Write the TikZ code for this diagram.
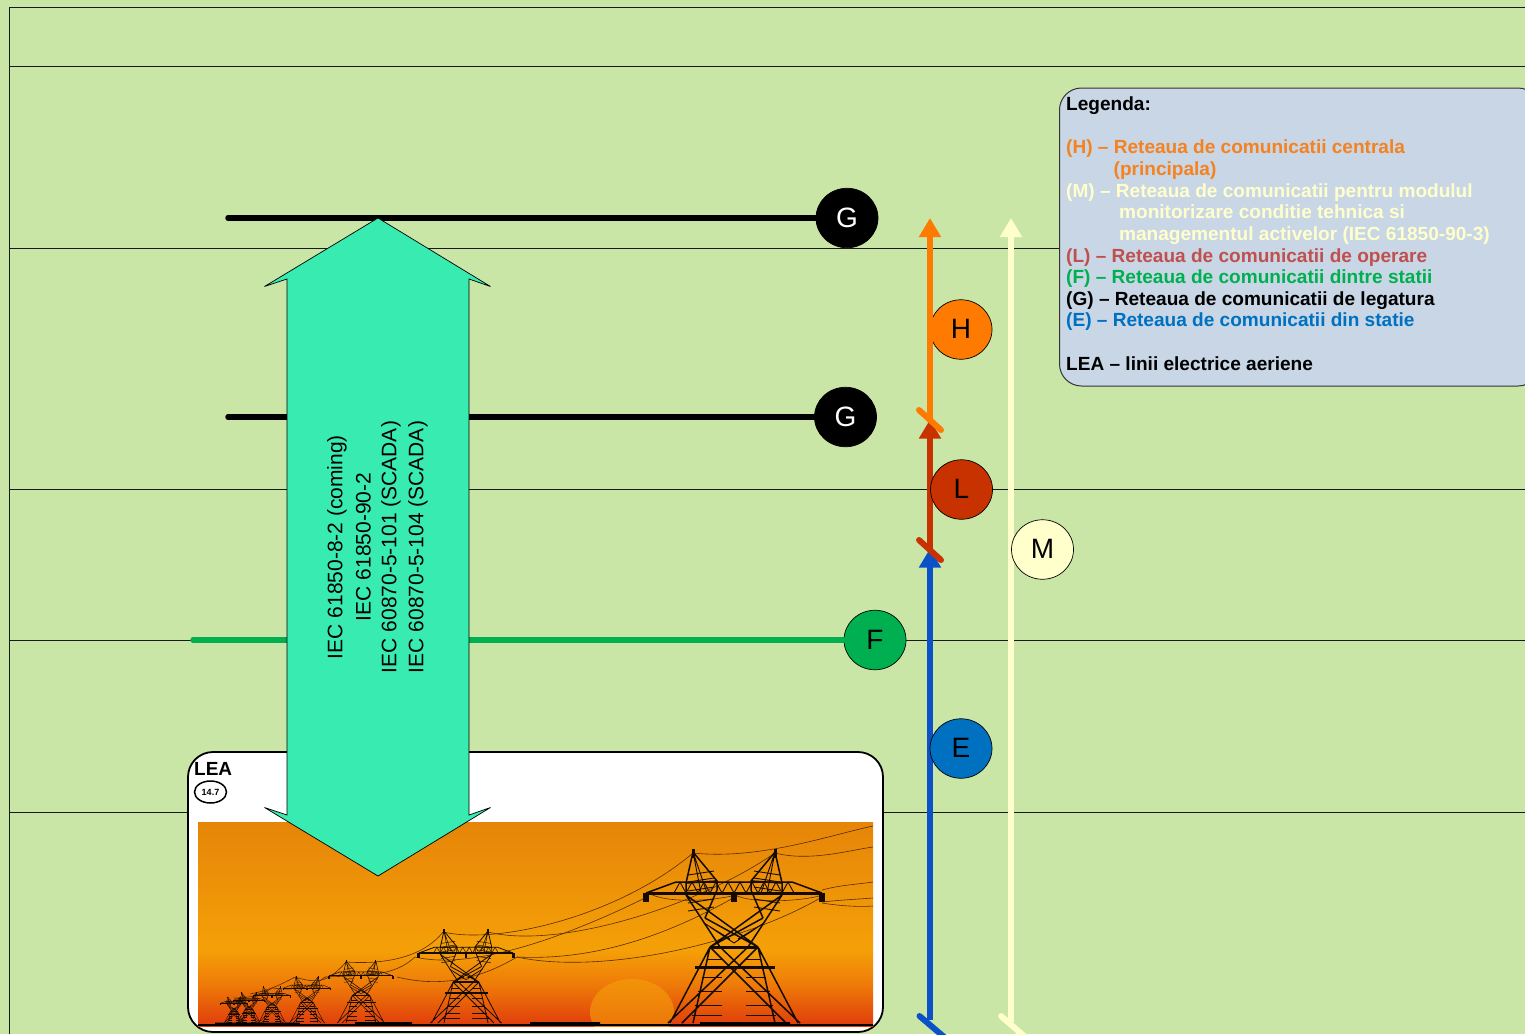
\documentclass[tikz,border=0pt]{standalone}
\usepackage{fontspec}
\setmainfont{Liberation Sans}
\usetikzlibrary{arrows.meta,shapes.geometric}
\definecolor{bgreen}{HTML}{C9E6A7}
\definecolor{legbg}{HTML}{C8D6E6}
\definecolor{arrowgreen}{HTML}{38EBB0}
\definecolor{hor}{HTML}{FF7A00}
\definecolor{lred}{HTML}{C83200}
\definecolor{mcream}{HTML}{FFFFCC}
\definecolor{fgreen}{HTML}{00B050}
\definecolor{eblue}{HTML}{0B52C8}
\definecolor{ecirc}{HTML}{0070C0}
\definecolor{txtH}{HTML}{F58220}
\definecolor{txtL}{HTML}{C0504D}
\definecolor{txtE}{HTML}{0070C0}
\definecolor{skyA}{HTML}{E68508}
\definecolor{skyB}{HTML}{F5A008}
\definecolor{skyM}{HTML}{EE7A08}
\definecolor{skyC}{HTML}{E03C0C}
\definecolor{sunc}{HTML}{F5A00A}
\tikzset{
 x=1pt,y=-1pt,
 grid/.style={black!90,line width=0.8pt},
 tag/.style={ellipse,draw=black,line width=0.7pt,minimum width=62pt,minimum height=59.5pt,inner sep=0pt,font=\fontsize{28}{28}\selectfont},
 bus/.style={line width=5.5pt,line cap=round},
 riser/.style={line width=6pt},
 risertip/.style={-{Triangle[length=19pt,width=21pt]}},
 slash/.style={line width=6pt,line cap=round},
 leg/.style={anchor=base west,inner sep=0pt,font=\fontsize{19.05}{20}\bfseries\selectfont},
 iec/.style={rotate=90,inner sep=0pt,font=\fontsize{21}{24}\selectfont},
 wire/.style={line width=0.6pt,black!65!orange},
}
\newcommand{\tagtext}[1]{\raisebox{1pt}{#1}}
\newcommand{\pylon}[3]{% cx, top, base
 \pgfmathsetmacro{\sc}{(#3-#2)/171}
 \pgfmathsetmacro{\lw}{max(0.35,1.5*\sc)}
 \begin{scope}[shift={(#1,#3)},xscale=\sc,yscale=\sc,line width=\lw pt,black!92!orange]
  % lower legs
  \draw (-64,0)--(-24,-76) (64,0)--(24,-76) (-41,0)--(-24,-76) (41,0)--(24,-76)
        (-24,-76)--(52,0) (24,-76)--(-52,0) (-14,-76)--(66,0) (14,-76)--(-66,0);
  % upper X
  \draw (-48,-128)--(-14,-76) (48,-128)--(14,-76)
        (-29,-105)--(24,-76) (29,-105)--(-24,-76) (-29,-105)--(24,-76)
        (-48,-128)--(24,-76) (48,-128)--(-24,-76)
        (-17,-133)--(-29,-105) (17,-133)--(29,-105);
  % peaks
  \draw (-41,-171)--(-48,-140)--(-48,-128) (-41,-171)--(-17,-142)--(-17,-133)
        (41,-171)--(48,-140)--(48,-128) (41,-171)--(17,-142)--(17,-133)
        (-48,-140)--(-17,-142) (48,-140)--(17,-142);
  \draw (-88,-130)--(-58,-141)--(58,-141)--(88,-130);
  \draw[line width=2*\lw pt] (-88,-130)--(88,-130) (-24,-76)--(24,-76) (-39,-56)--(41,-56)
        (-41,-174)--(-41,-165) (41,-174)--(41,-165);
  \draw[line width=3.6*\lw pt] (-88,-130)--(-88,-121) (0,-130)--(0,-121) (88,-130)--(88,-121);
  \foreach \i in {-60,-48,...,48}{
   \draw[line width=0.6*\lw pt] (\i,-130)--(\i+6,-141)--(\i+12,-130);}
  \foreach \s in {-1,1}{
   \foreach \b in {-64,-46,-32,-18,-8}{
    \draw[line width=0.6*\lw pt] (\s*44+\s*\b*0.26+\s*0,\b)--(\s*12,\b);}
   \foreach \b in {-152,-145,-136,-124,-116}{
    \draw[line width=0.6*\lw pt] (\s*20,\b)--(\s*46,\b+4);}
   \draw[line width=0.6*\lw pt] (\s*41,-171)--(\s*33,-130) (\s*41,-171)--(\s*27,-130);
   \draw[line width=0.6*\lw pt] (\s*30,-100)--(\s*4,-84) (\s*24,-96)--(\s*0,-80);
   }
 \end{scope}}
\begin{document}
\begin{tikzpicture}
\useasboundingbox (0,0) rectangle (1525,1034);
\fill[bgreen] (0,0) rectangle (1525,1034);
% grid
\coordinate (gl0) at (9.5,7); \coordinate (gb) at (9.5,1034); \coordinate (gr0) at (1525,7);
\draw[grid] (gb)--(gl0)--(gr0);
\foreach \n/\y in {a/66.5,b/248,c/489.5,d/640,e/812}{
 \coordinate (gl\n) at (9.5,\y); \coordinate (gr\n) at (1525,\y);
 \draw[grid] (gl\n)--(gr\n);}
% LEA panel
\node[draw=black,line width=1.8pt,fill=white,rounded corners=25pt,minimum width=695pt,minimum height=280pt,inner sep=0pt] (lea) at (535.5,892) {};
\begin{scope}
 \clip (198,822) rectangle (873,1026);
 \fill[top color=skyA,bottom color=skyB] (198,822) rectangle (873,950);
 \fill[top color=skyB,bottom color=skyM] (198,950) rectangle (873,985);
 \fill[top color=skyM,bottom color=skyC] (198,985) rectangle (873,1026);
 \fill[sunc,opacity=.6] (632,1012) ellipse (42pt and 33pt);
\end{scope}
% wires
\begin{scope}[wire]
 \draw (693,853) .. controls (620,915) and (500,945) .. (443,932);
 \draw (775,853) .. controls (700,905) and (560,950) .. (488,932);
 \draw (647,897) .. controls (560,940) and (470,970) .. (415,957);
 \draw (735,897) .. controls (650,945) and (580,960) .. (517,957);
 \draw (822,897) .. controls (740,945) and (600,975) .. (517,957);
 \draw (693,853) .. controls (760,860) and (830,835) .. (873,826);
 \draw (775,853) .. controls (810,862) and (850,850) .. (873,847);
 \draw (822,890) .. controls (840,885) and (860,884) .. (873,882);
 \draw (822,902) .. controls (840,900) and (860,899) .. (873,898);
 \draw (822,903) .. controls (840,906) and (860,907) .. (873,906);
 \draw (647,892) .. controls (665,905) and (720,900) .. (735,895);
 \draw (735,895) .. controls (755,905) and (810,900) .. (822,895);
 \draw (443,932) .. controls (425,955) and (390,965) .. (346,962);
 \draw (415,957) .. controls (395,975) and (375,975) .. (325,977);
 \draw (517,957) .. controls (470,985) and (430,985) .. (397,977);
 \draw (346,962) .. controls (330,980) and (320,985) .. (295,977);
 \draw (325,977) .. controls (310,990) and (290,990) .. (272,988);
 \draw (295,977) .. controls (280,985) and (270,990) .. (250,994);
 \draw (272,988) .. controls (262,995) and (250,998) .. (234,998);
\end{scope}
\pylon{734}{852}{1023}
\pylon{466}{931}{1023}
\pylon{361}{961}{1023}
\pylon{307}{977}{1023}
\pylon{272}{987}{1023}
\pylon{249}{993}{1023}
\pylon{234}{997}{1023}
\fill[black] (198,1024) rectangle (873,1026);
\fill[black] (215,1022.5) rectangle (300,1025) (355,1022) rectangle (412,1025) (530,1022) rectangle (600,1025) (700,1022) rectangle (790,1025);
% LEA labels
\node[anchor=base west,inner sep=0pt,font=\fontsize{19}{20}\bfseries\selectfont] (leat) at (194,775) {LEA};
\node[draw=black,line width=1.5pt,ellipse,minimum width=32pt,minimum height=22pt,inner sep=0pt,font=\fontsize{9}{10}\bfseries\selectfont] (lean) at (210.5,792) {14.7};
% buses
\node[tag,fill=black,text=white] (G1) at (847,218) {\tagtext{G}};
\node[tag,fill=black,text=white] (G2) at (845.5,417) {\tagtext{G}};
\node[tag,fill=fgreen] (F) at (875,640) {\tagtext{F}};
\coordinate (g1s) at (228,218); \coordinate (g2s) at (228,417); \coordinate (fs) at (193,640);
\draw[bus,black] (g1s)--(G1);
\draw[bus,black] (g2s)--(G2);
\draw[bus,fgreen] (fs)--(F);
% risers
\node[tag,fill=hor] (H) at (961,329.5) {\tagtext{H}};
\coordinate (hb) at (930,422); \coordinate (ht) at (930,218);
\coordinate (lb) at (930,551); \coordinate (lt) at (930,419.5);
\coordinate (eb) at (930,1020); \coordinate (et) at (930,548.5);
\coordinate (mb) at (1011,1022); \coordinate (mt) at (1011,218);
\draw[riser,eblue,risertip] (eb)--(et);
\draw[riser,lred,risertip] (lb)--(lt);
\draw[riser,hor,risertip] (hb)--(ht);
\draw[riser,mcream,risertip] (mb)--(mt);
\draw[slash,eblue] (919.5,1016)--(950,1042);
\draw[slash,mcream] (1001,1016)--(1031,1042);
\draw[slash,lred] (919,540)--(941,560);
\draw[slash,hor] (919,410)--(941,430);
\node[tag,fill=lred] (L) at (961.5,489.5) {\tagtext{L}};
\node[tag,fill=ecirc] (E) at (961,748.5) {\tagtext{E}};
\node[tag,fill=mcream] (M) at (1042.5,549.5) {\tagtext{M}};
% big arrow
\filldraw[draw=black,line width=0.7pt,fill=arrowgreen,miter limit=3] (378,218)--(490.5,286.5)--(469,279)--(469,815)--(490.5,807.5)--(378,876)--(264.5,807.5)--(287,815)--(287,279)--(264.5,286.5)--cycle;
\node[iec] (t1) at (337,547) {IEC 61850-8-2 (coming)};
\node[iec] (t2) at (363.5,547) {IEC 61850-90-2};
\node[iec] (t3) at (391,547) {IEC 60870-5-101 (SCADA)};
\node[iec] (t4) at (418,547) {IEC 60870-5-104 (SCADA)};
% legend
\node[draw=black!80,line width=1pt,fill=legbg,rounded corners=22pt,minimum width=480.5pt,minimum height=298pt,inner sep=0pt] (legend) at (1299.75,237) {};
\node[leg] (l0) at (1066,110) {Legenda:};
\node[leg,text=txtH] (l1) at (1066,153) {(H) – Reteaua de comunicatii centrala};
\node[leg,text=txtH] (l2) at (1113.5,175) {(principala)};
\node[leg,text=mcream] (l3) at (1066,197) {(M) – Reteaua de comunicatii pentru modulul};
\node[leg,text=mcream] (l4) at (1119,218) {monitorizare conditie tehnica si};
\node[leg,text=mcream] (l5) at (1119,240) {managementul activelor (IEC 61850-90-3)};
\node[leg,text=txtL] (l6) at (1066,262) {(L) – Reteaua de comunicatii de operare};
\node[leg,text=fgreen] (l7) at (1066,283) {(F) – Reteaua de comunicatii dintre statii};
\node[leg] (l8) at (1066,305) {(G) – Reteaua de comunicatii de legatura};
\node[leg,text=txtE] (l9) at (1066,326) {(E) – Reteaua de comunicatii din statie};
\node[leg] (l10) at (1066,370) {LEA – linii electrice aeriene};
\end{tikzpicture}
\end{document}
